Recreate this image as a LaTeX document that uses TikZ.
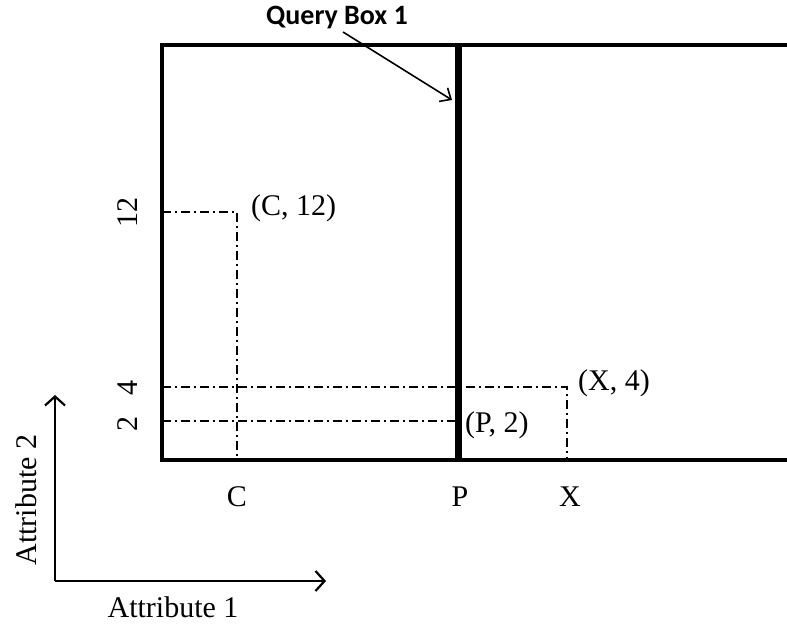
\documentclass[tikz,border=0pt]{standalone}
\usepackage{fontspec}
\setmainfont{Liberation Serif}
\newfontfamily\calfont{Carlito}
\usetikzlibrary{arrows.meta}
\tikzset{
  frame/.style={line width=4.5pt, line cap=rect},
  guide/.style={line width=1.2pt, dash pattern=on 9pt off 4pt on 2pt off 4pt},
  lbl/.style={font=\fontsize{30}{36}\selectfont, inner sep=0pt},
  axis/.style={line width=2.2pt, -{Straight Barb[length=9pt, width=20pt, line width=2.2pt]}},
}

\begin{document}
\begin{tikzpicture}[x=1pt, y=-1pt]
    \useasboundingbox (0,0) rectangle (787,628);
    % space and query box edge
    \coordinate (tl) at (162,45); \coordinate (tr) at (787,45);
    \coordinate (bl) at (162,460); \coordinate (br) at (787,460);
    \coordinate (qt) at (458,45); \coordinate (qb) at (458,462);
    \draw[frame] (tr) -- (tl) -- (bl) -- (br);
    \draw[line width=7pt] (qt) -- (qb);
    % points
    \coordinate (pc) at (237,212);
    \coordinate (px) at (567,387);
    \coordinate (pp) at (458,421);
    \foreach \p in {pc,px,pp}
      \draw[guide] (bl |- \p) -- (\p) -- (\p |- bl);
    \node[lbl, anchor=west] (lc) at (251,208) {(C, 12)};
    \node[lbl, anchor=west] (lx) at (578,383) {(X, 4)};
    \node[lbl, anchor=west] (lp) at (465,425) {(P, 2)};
    \foreach \v/\y in {12/213,4/388,2/424}
      \node[lbl, rotate=90] (t\v) at (128,\y) {\v};
    \foreach \n/\x in {C/237,P/460,X/570}
      \node[lbl] (b\n) at (\x,497) {\n};
    % label of the box
    \node[font=\calfont\bfseries\fontsize{28}{32}\selectfont, inner sep=0pt, anchor=base] (qlbl) at (337,25) {Query Box 1};
    \coordinate (qtip) at (452,100);
    \draw[line width=1.6pt, -{Straight Barb[length=9pt, width=16pt, line width=1.6pt]}] (343,32) -- (qtip);
    % axes
    \coordinate (o) at (55,581);
    \coordinate (ay) at (55,395);
    \coordinate (ax) at (326,581);
    \draw[axis] (o) -- (ay);
    \draw[axis] (o) -- (ax);
    \node[lbl, rotate=90] (a2) at (26,500) {Attribute 2};
    \node[lbl] (a1) at (173,607) {Attribute 1};
\end{tikzpicture}
\end{document}
